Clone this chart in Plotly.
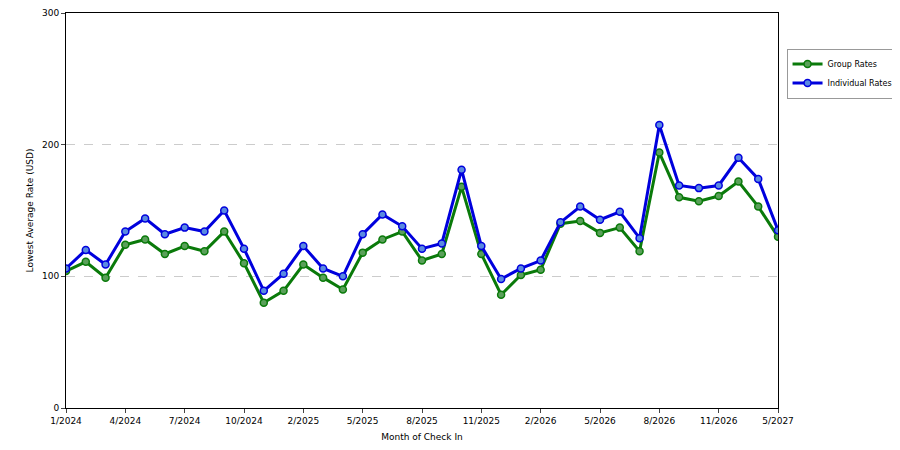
import plotly.graph_objects as go

tick_pos = [0, 3, 6, 9, 12, 15, 18, 21, 24, 27, 30, 33, 36]
tick_labels = ["1/2024", "4/2024", "7/2024", "10/2024", "2/2025", "5/2025", "8/2025",
               "11/2025", "2/2026", "5/2026", "8/2026", "11/2026", "5/2027"]

group_rates = [104, 111, 99, 124, 128, 117, 123, 119, 134, 110, 80, 89,
               109, 99, 90, 118, 128, 134, 112, 117, 168, 117, 86, 101,
               105, 140, 142, 133, 137, 119, 194, 160, 157, 161, 172, 153, 130]
individual_rates = [106, 120, 109, 134, 144, 132, 137, 134, 150, 121, 89, 102,
                    123, 106, 100, 132, 147, 138, 121, 125, 181, 123, 98, 106,
                    112, 141, 153, 143, 149, 129, 215, 169, 167, 169, 190, 174, 135]

x = list(range(len(group_rates)))

fig = go.Figure()
fig.add_trace(go.Scatter(x=x, y=group_rates, name="Group Rates", mode="lines+markers",
                         line=dict(color="#0a7a0a", width=3),
                         marker=dict(size=7, color="#5aa05a", line=dict(color="#0a7a0a", width=1.5))))
fig.add_trace(go.Scatter(x=x, y=individual_rates, name="Individual Rates", mode="lines+markers",
                         line=dict(color="#0000dd", width=3),
                         marker=dict(size=7, color="#5a8ae0", line=dict(color="#0000dd", width=1.5))))

fig.update_layout(
    width=900, height=450,
    margin=dict(l=58, r=130, t=5, b=50, pad=0),
    paper_bgcolor="white", plot_bgcolor="white",
    font=dict(family="DejaVu Sans", size=9, color="black"),
    legend=dict(x=1.012, y=0.91, xanchor="left", yanchor="top",
                bordercolor="#999999", borderwidth=1, traceorder="normal",
                itemwidth=30, font=dict(size=8)),
    xaxis=dict(range=[0, 36], tickvals=tick_pos, ticktext=tick_labels,
               showgrid=False, showline=True, linecolor="black", mirror=True,
               ticks="outside", ticklen=4, zeroline=False, automargin=False,
               title=dict(text="Month of Check In", font=dict(size=9), standoff=8)),
    yaxis=dict(range=[0, 300], tickvals=[0, 100, 200, 300],
               showgrid=True, gridcolor="#cccccc", griddash="dash",
               showline=True, linecolor="black", mirror=True,
               ticks="outside", ticklen=4, zeroline=False, automargin=False,
               title=dict(text="Lowest Average Rate (USD)", font=dict(size=9), standoff=6)),
)

fig.write_html("out.html")
